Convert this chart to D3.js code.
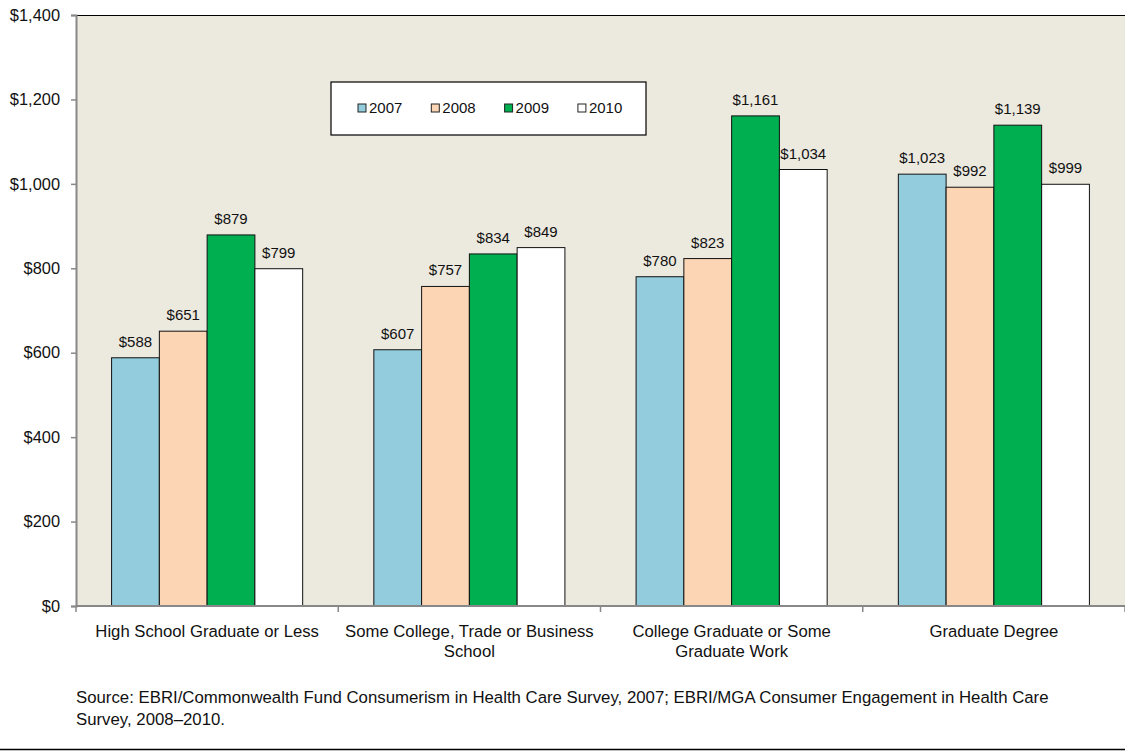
<!DOCTYPE html>
<html>
<head>
<meta charset="utf-8">
<script src="https://cdn.jsdelivr.net/npm/d3@7"></script>
<style>
  html, body { margin: 0; padding: 0; background: #fff; }
  svg { display: block; }
  text { font-family: "Liberation Sans", Arial, Helvetica, sans-serif; fill: #111; }
</style>
</head>
<body>
<svg id="chart" width="1125" height="751"></svg>
<script>
// Average out-of-pocket spending by education, survey years 2007–2010
const categories = [
  ["High School Graduate or Less"],
  ["Some College, Trade or Business", "School"],
  ["College Graduate or Some", "Graduate Work"],
  ["Graduate Degree"]
];
const years = ["2007", "2008", "2009", "2010"];
const values2007 = [588, 607, 780, 1023];
const values2008 = [651, 757, 823, 992];
const values2009 = [879, 834, 1161, 1139];
const values2010 = [799, 849, 1034, 999];
const yTicks = [0, 200, 400, 600, 800, 1000, 1200, 1400];
const sourceLines = [
  "Source: EBRI/Commonwealth Fund Consumerism in Health Care Survey, 2007; EBRI/MGA Consumer Engagement in Health Care",
  "Survey, 2008\u20132010."
];

const seriesValues = [values2007, values2008, values2009, values2010];
const colors = ["#93cddd", "#fcd5b5", "#00b050", "#ffffff"];

const svg = d3.select("#chart");
const plot = { left: 76, right: 1125, top: 15, bottom: 606 };

const catKeys = categories.map((c, i) => i);
const x0 = d3.scaleBand().domain(catKeys).range([plot.left, plot.right]).paddingInner(0).paddingOuter(0);
const x1 = d3.scaleBand().domain(years).range([0, x0.bandwidth()]).paddingInner(0).paddingOuter(0.745);
const y = d3.scaleLinear().domain([0, 1400]).range([plot.bottom, plot.top]);

// plot background
svg.append("rect")
  .attr("x", plot.left).attr("y", plot.top)
  .attr("width", plot.right - plot.left).attr("height", plot.bottom - plot.top)
  .attr("fill", "#ece9df");

// top border of plot
svg.append("line")
  .attr("x1", plot.left).attr("x2", plot.right)
  .attr("y1", plot.top + 0.5).attr("y2", plot.top + 0.5)
  .attr("stroke", "#000").attr("stroke-width", 1.2);

// bars
const groups = svg.append("g").selectAll("g")
  .data(catKeys).join("g")
  .attr("transform", i => `translate(${x0(i)},0)`);

groups.selectAll("rect")
  .data(i => years.map((yr, s) => ({ yr, s, v: seriesValues[s][i] })))
  .join("rect")
  .attr("x", d => x1(d.yr))
  .attr("y", d => y(d.v))
  .attr("width", x1.bandwidth())
  .attr("height", d => y(0) - y(d.v))
  .attr("fill", d => colors[d.s])
  .attr("stroke", "#111")
  .attr("stroke-width", 1);

groups.selectAll("text.val")
  .data(i => years.map((yr, s) => ({ yr, s, v: seriesValues[s][i] })))
  .join("text")
  .attr("class", "val")
  .attr("x", d => x1(d.yr) + x1.bandwidth() / 2)
  .attr("y", d => y(d.v) - 11)
  .attr("text-anchor", "middle")
  .attr("font-size", 15)
  .text(d => "$" + d3.format(",")(d.v));

// y axis
const yAxis = d3.axisLeft(y).tickValues(yTicks)
  .tickFormat(d => "$" + d3.format(",")(d))
  .tickSize(5).tickPadding(11);
const gy = svg.append("g").attr("transform", `translate(${plot.left},0)`).call(yAxis);
gy.select(".domain").attr("stroke", "#888").attr("stroke-width", 2);
gy.selectAll(".tick line").attr("stroke", "#888").attr("stroke-width", 1.5);
gy.selectAll(".tick text").attr("font-size", 16.4).attr("fill", "#111")
  .attr("font-family", "'Liberation Sans', Arial, sans-serif");

// x axis with boundary ticks
const gx = svg.append("g").attr("transform", `translate(0,${plot.bottom})`);
gx.append("line")
  .attr("x1", plot.left).attr("x2", plot.right)
  .attr("y1", 0).attr("y2", 0)
  .attr("stroke", "#888").attr("stroke-width", 2);
const boundaries = catKeys.map(i => x0(i)).concat([plot.right]);
gx.selectAll("line.tk").data(boundaries).join("line")
  .attr("class", "tk")
  .attr("x1", d => d).attr("x2", d => d)
  .attr("y1", 0).attr("y2", 6)
  .attr("stroke", "#888").attr("stroke-width", 1.5);

gx.selectAll("text.cat").data(catKeys).join("text")
  .attr("class", "cat")
  .attr("text-anchor", "middle")
  .attr("font-size", 16.7)
  .attr("transform", i => `translate(${x0(i) + x0.bandwidth() / 2},31)`)
  .each(function (i) {
    const t = d3.select(this);
    categories[i].forEach((line, k) => {
      t.append("tspan").attr("x", 0).attr("dy", k === 0 ? 0 : 20).text(line);
    });
  });

// legend
const legend = svg.append("g").attr("transform", "translate(331,82)");
legend.append("rect")
  .attr("width", 315).attr("height", 53)
  .attr("fill", "#fff").attr("stroke", "#000").attr("stroke-width", 1.2);
const items = legend.selectAll("g").data(years).join("g")
  .attr("transform", (d, i) => `translate(${27 + i * 73.3},0)`);
items.append("rect")
  .attr("x", 0).attr("y", 22)
  .attr("width", 8).attr("height", 8)
  .attr("fill", (d, i) => colors[i])
  .attr("stroke", "#222").attr("stroke-width", 1);
items.append("text")
  .attr("x", 11).attr("y", 31)
  .attr("font-size", 15)
  .attr("font-family", "Lato, 'Open Sans', sans-serif")
  .text(d => d);

// source note
svg.append("text")
  .attr("x", 76).attr("y", 703)
  .attr("font-size", 16.8)
  .selectAll("tspan").data(sourceLines).join("tspan")
  .attr("x", 76).attr("dy", (d, i) => i === 0 ? 0 : 22)
  .text(d => d);

// bottom rule
svg.append("line")
  .attr("x1", 0).attr("x2", 1125)
  .attr("y1", 749.5).attr("y2", 749.5)
  .attr("stroke", "#000").attr("stroke-width", 1.5);
</script>
</body>
</html>
